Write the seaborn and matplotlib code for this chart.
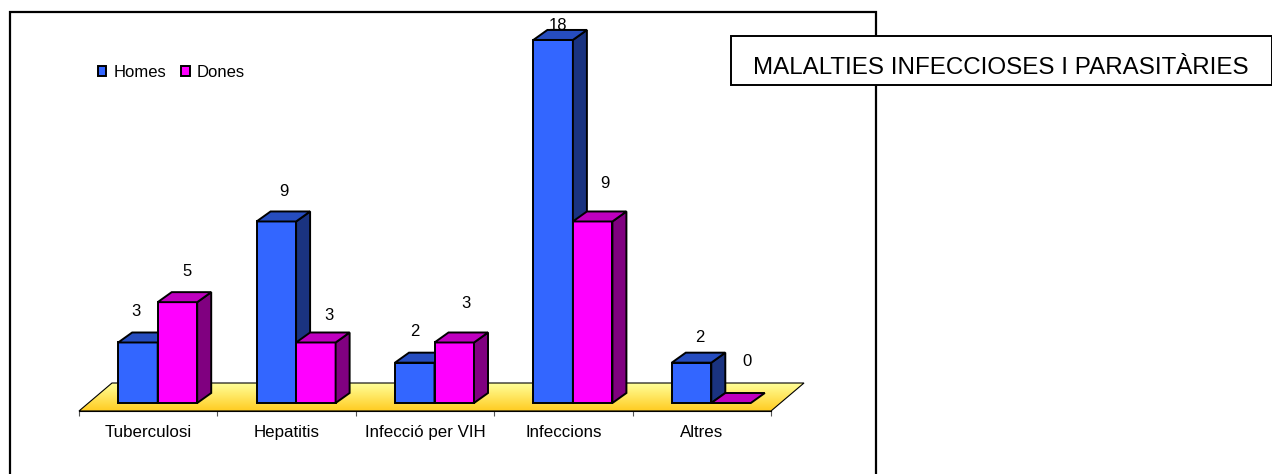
import matplotlib
matplotlib.use("Agg")
import matplotlib.pyplot as plt
import numpy as np
import pandas as pd
import seaborn as sns
from matplotlib.colors import LinearSegmentedColormap
from matplotlib.patches import Polygon, Rectangle
from matplotlib.transforms import Affine2D

categories = ['Tuberculosi', 'Hepatitis', 'Infecció per VIH', 'Infeccions', 'Altres']
homes = [3, 9, 2, 18, 2]
dones = [5, 3, 3, 9, 0]
titol = 'MALALTIES INFECCIOSES I PARASITÀRIES'

# Configuració
sns.set_style('white')
plt.rcParams['font.family'] = ['Liberation Sans', 'DejaVu Sans']

W, H = 1272, 474
PX_PER_UNIT = 20.17
FRONT_X = 9.5      # bars sit this far behind the axis line
DEPTH_X, DEPTH_Y = 14, 10
EDGE = 1.4

colors = {'Homes': '#3366FF', 'Dones': '#FF00FF'}
side = {'Homes': '#1A3380', 'Dones': '#800080'}
top = {'Homes': '#264DBF', 'Dones': '#BF00BF'}

# label offsets from the bar's top centre, in pixels
label_off = {'Homes': [(-2, 31), (8, 30), (0, 31), (5, 14), (8, 25)],
             'Dones': [(10, 31), (13, 27), (12, 39), (12, 38), (16, 41)]}

df = pd.DataFrame({
    'categoria': categories * 2,
    'sexe': ['Homes'] * len(categories) + ['Dones'] * len(categories),
    'casos': homes + dones,
})

fig = plt.figure(figsize=(W / 100, H / 100), dpi=100, facecolor='white')

# Background layer in pixel coordinates: frame and yellow floor
fondo = fig.add_axes([0, 0, 1, 1], zorder=0)
fondo.axis('off')
fondo.add_patch(Rectangle((10, 12), 866, 480, fc='white', ec='black', lw=1.6))
floor_pts = [(79, 411), (771, 411), (804, 383), (112, 383)]
floor = Polygon(floor_pts, closed=True, fc='none', ec='black', lw=0.8, zorder=3)
fondo.add_patch(floor)
cmap = LinearSegmentedColormap.from_list('terra', ['#FFFF99', '#FFCC22'])
grad = np.linspace(0, 1, 60).reshape(-1, 1)
img = fondo.imshow(grad, cmap=cmap, extent=[79, 804, 411, 383], aspect='auto', zorder=2)
img.set_clip_path(floor)
fondo.set_xlim(0, W)
fondo.set_ylim(H, 0)

# Chart axes: x spans the front edge of the floor
y_base = -8 / PX_PER_UNIT
y_top = (403 - 14) / PX_PER_UNIT
ax = fig.add_axes([79 / W, (H - 411) / H, 692 / W, (411 - 14) / H], zorder=1)
ax.patch.set_visible(False)
sns.barplot(data=df, x='categoria', y='casos', hue='sexe', order=categories,
            hue_order=['Homes', 'Dones'], palette=colors, width=0.571, gap=0,
            edgecolor='black', linewidth=EDGE, saturation=1, errorbar=None, ax=ax)
ax.set_xlim(-0.5, len(categories) - 0.5)
ax.set_ylim(y_base, y_top)

# Pseudo 3D: shift the seaborn bars and add their side and top faces
shift = ax.transData + Affine2D().translate(FRONT_X, 0)
screen = Affine2D().translate(0, 0)
for z, (cont, sexe) in enumerate(zip(ax.containers, ['Homes', 'Dones'])):
    for i, bar in enumerate(cont):
        bar.set_transform(shift)
        bar.set_zorder(3 + z)
        bar.set_clip_on(False)
        x0, y0 = shift.transform((bar.get_x(), 0))
        x1, y1 = shift.transform((bar.get_x() + bar.get_width(), bar.get_height()))
        side_pts = [(x1, y0), (x1 + DEPTH_X, y0 + DEPTH_Y), (x1 + DEPTH_X, y1 + DEPTH_Y), (x1, y1)]
        top_pts = [(x0, y1), (x1, y1), (x1 + DEPTH_X, y1 + DEPTH_Y), (x0 + DEPTH_X, y1 + DEPTH_Y)]
        if bar.get_height() > 0:
            ax.add_patch(Polygon(side_pts, closed=True, transform=screen, fc=side[sexe],
                                 ec='black', lw=EDGE, zorder=3 + z, clip_on=False))
        ax.add_patch(Polygon(top_pts, closed=True, transform=screen, fc=top[sexe],
                             ec='black', lw=EDGE, zorder=3 + z, clip_on=False))
        dx, dy = label_off[sexe][i]
        ax.annotate(f'{bar.get_height():.0f}', xy=((x0 + x1) / 2, y1), xycoords=screen,
                    xytext=(dx, dy), textcoords='offset pixels', ha='center', va='center',
                    fontsize=12, color='black', zorder=6, annotation_clip=False)

# Axis: labels at category centres, ticks between categories
sns.despine(ax=ax, left=True, top=True, right=True)
ax.spines['bottom'].set_linewidth(0.8)
ax.spines['bottom'].set_color('black')
ax.set_yticks([])
ax.set_xlabel('')
ax.set_ylabel('')
ax.set_xticks(np.arange(len(categories) + 1) - 0.5, minor=True)
ax.tick_params(axis='x', which='minor', bottom=True, length=3.6, width=0.8, color='#555555')
ax.tick_params(axis='x', which='major', bottom=False, labelsize=12.2, pad=6.5, labelcolor='black')

# Legend
leg = ax.legend(loc='center left', bbox_to_anchor=(98 / W, (H - 72.5) / H),
                bbox_transform=fig.transFigure, ncol=2, frameon=False, fontsize=12,
                handlelength=0.5, handleheight=0.5, handletextpad=0.45,
                columnspacing=0.88, borderpad=0, borderaxespad=0, labelcolor='black')
for handle in leg.legend_handles:
    handle.set_edgecolor('black')
    handle.set_linewidth(EDGE)

# Title box on top of the frame
sobre = fig.add_axes([0, 0, 1, 1], zorder=2)
sobre.axis('off')
sobre.patch.set_visible(False)
sobre.set_xlim(0, W)
sobre.set_ylim(H, 0)
sobre.add_patch(Rectangle((731, 36), 540.5, 49, fc='white', ec='black', lw=1.4))
sobre.text(753, 74, titol, ha='left', va='baseline', fontsize=17.4, color='black')

plt.savefig('out.png', dpi=100, facecolor='white')
plt.close()
